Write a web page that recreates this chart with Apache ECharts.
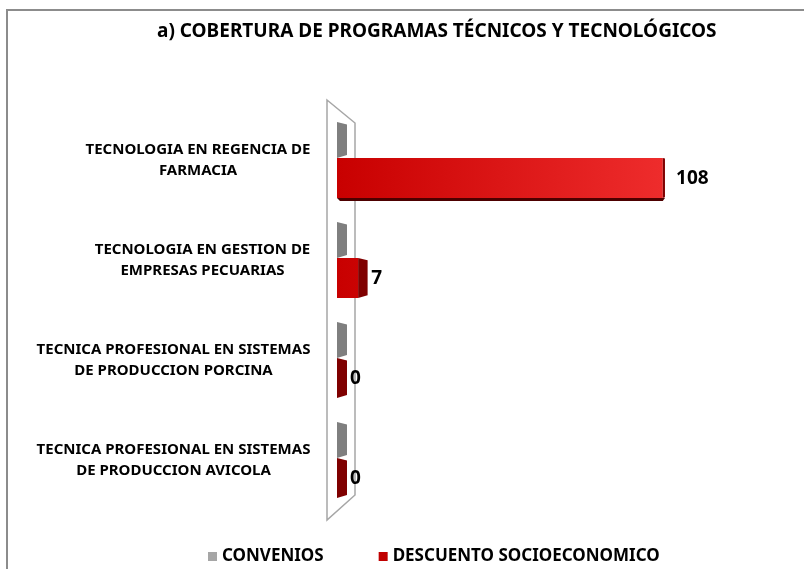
<!DOCTYPE html>
<html>
<head>
<meta charset="utf-8">
<script src="https://cdn.jsdelivr.net/npm/echarts@6/dist/echarts.min.js"></script>
<style>
  html, body { margin: 0; padding: 0; background: #fff; }
  #chart { width: 804px; height: 569px; }
</style>
</head>
<body>
<div id="chart"></div>
<script>
// datos
var titulo = "a) COBERTURA DE PROGRAMAS TÉCNICOS Y TECNOLÓGICOS";
var programas = [
  "TECNOLOGIA EN REGENCIA DE\nFARMACIA",
  "TECNOLOGIA EN GESTION DE\nEMPRESAS PECUARIAS",
  "TECNICA PROFESIONAL EN SISTEMAS\nDE PRODUCCION PORCINA",
  "TECNICA PROFESIONAL EN SISTEMAS\nDE PRODUCCION AVICOLA"
];
var convenios = [0, 0, 0, 0];
var descuento = [108, 7, 0, 0];

var fontFam = "'Noto Sans', sans-serif";
var gridLeft = 337, gridTop = 110, gridBottom = 59, gridRight = 105;

// ancho de cada etiqueta para centrar las lineas dentro del bloque
var ctx = document.createElement("canvas").getContext("2d");
ctx.font = "bold 15px " + fontFam;
var rich = {};
programas.forEach(function (p, i) {
  var w = 0;
  p.split("\n").forEach(function (l) {
    w = Math.max(w, ctx.measureText(l).width);
  });
  rich["c" + i] = { width: Math.ceil(w) + 1, align: "center", fontSize: 15, fontWeight: "bold", fontFamily: fontFam, color: "#000", lineHeight: 21 };
});

function makeRender(front, side, offs, showLabel) {
  return function (params, api) {
    var v = api.value(0), c = api.value(1);
    var p0 = api.coord([0, c]);
    var p1 = api.coord([v, c]);
    var band = api.size([0, 1])[1];
    var cs = params.coordSys;
    var top = p0[1] + band * offs[0], bot = p0[1] + band * offs[1];
    var x0 = p0[0], x1 = p1[0];
    var len = x1 - x0;
    var d = Math.max(2, 10 - 8.7 * len / cs.width);
    var kids = [];
    if (len > 0) {
      kids.push({
        type: "rect",
        shape: { x: x0, y: top, width: len, height: bot - top },
        style: {
          fill: new echarts.graphic.LinearGradient(x0, 0, x0 + cs.width * 0.9, 0,
            [{ offset: 0, color: front[0] }, { offset: 1, color: front[1] }], true)
        }
      });
      var h = 3 * len / cs.width * 1.1;
      if (h > 0.8) {
        kids.push({
          type: "polygon",
          shape: { points: [[x0, bot], [x1 + d, bot], [x1, bot + h], [x0 + h, bot + h]] },
          style: { fill: side[1] }
        });
      }
    }
    kids.push({
      type: "polygon",
      shape: { points: [[x1, top], [x1 + d, top + d * 0.25], [x1 + d, bot - d * 0.3], [x1, bot]] },
      style: { fill: side[0] }
    });
    if (showLabel) {
      kids.push({
        type: "text",
        style: {
          text: String(v), x: x1 + d + 3 + 9 * len / cs.width, y: (top + bot) / 2 + 1,
          align: "left", verticalAlign: "middle",
          fontSize: 19, fontWeight: "bold", fontFamily: fontFam, fill: "#000"
        }
      });
    }
    return { type: "group", children: kids };
  };
}

var chart = echarts.init(document.getElementById("chart"));
var wl = gridLeft - 10, wr = gridLeft + 18, wt = gridTop - 10, wb = 569 - gridBottom + 10;

chart.setOption({
  backgroundColor: "#fff",
  animation: false,
  title: {
    text: titulo,
    left: 152, top: 17,
    textStyle: { fontSize: 19, fontWeight: "bold", fontFamily: fontFam, color: "#000" }
  },
  legend: {
    left: 203, top: 543,
    itemWidth: 9, itemHeight: 9, itemGap: 55,
    icon: "rect",
    textStyle: { fontSize: 17, fontWeight: "bold", fontFamily: fontFam, color: "#000" },
    data: ["CONVENIOS", "DESCUENTO SOCIOECONOMICO"]
  },
  graphic: [
    { type: "rect", z: -1, shape: { x: 7, y: 10, width: 830, height: 600 },
      style: { fill: "#fff", stroke: "#8c8c8c", lineWidth: 2 } },
    { type: "polygon", z: 0,
      shape: { points: [[wl, wt], [wr, wt + 23], [wr, wb - 25], [wl, wb]] },
      style: { fill: "#fff", stroke: "#a6a6a6", lineWidth: 1.5 } }
  ],
  grid: { left: gridLeft, right: gridRight, top: gridTop, bottom: gridBottom },
  xAxis: { type: "value", min: 0, max: 120, show: false },
  yAxis: {
    type: "category",
    inverse: true,
    data: programas,
    axisLine: { show: false },
    axisTick: { show: false },
    axisLabel: {
      margin: 26,
      formatter: function (val, i) {
        return val.split("\n").map(function (l) { return "{c" + i + "|" + l + "}"; }).join("\n");
      },
      rich: rich
    }
  },
  series: [
    {
      name: "CONVENIOS", type: "custom",
      itemStyle: { color: "#a6a6a6" },
      encode: { x: 0, y: 1 },
      renderItem: makeRender(["#8c8c8c", "#a6a6a6"], ["#7f7f7f", "#595959"], [-0.38, -0.02], false),
      data: convenios.map(function (v, i) { return [v, i]; })
    },
    {
      name: "DESCUENTO SOCIOECONOMICO", type: "custom",
      itemStyle: { color: "#c00000" },
      encode: { x: 0, y: 1 },
      renderItem: makeRender(["#c80000", "#ee2c2c"], ["#7f0000", "#4d0000"], [-0.02, 0.38], true),
      data: descuento.map(function (v, i) { return [v, i]; })
    }
  ]
});
</script>
</body>
</html>
